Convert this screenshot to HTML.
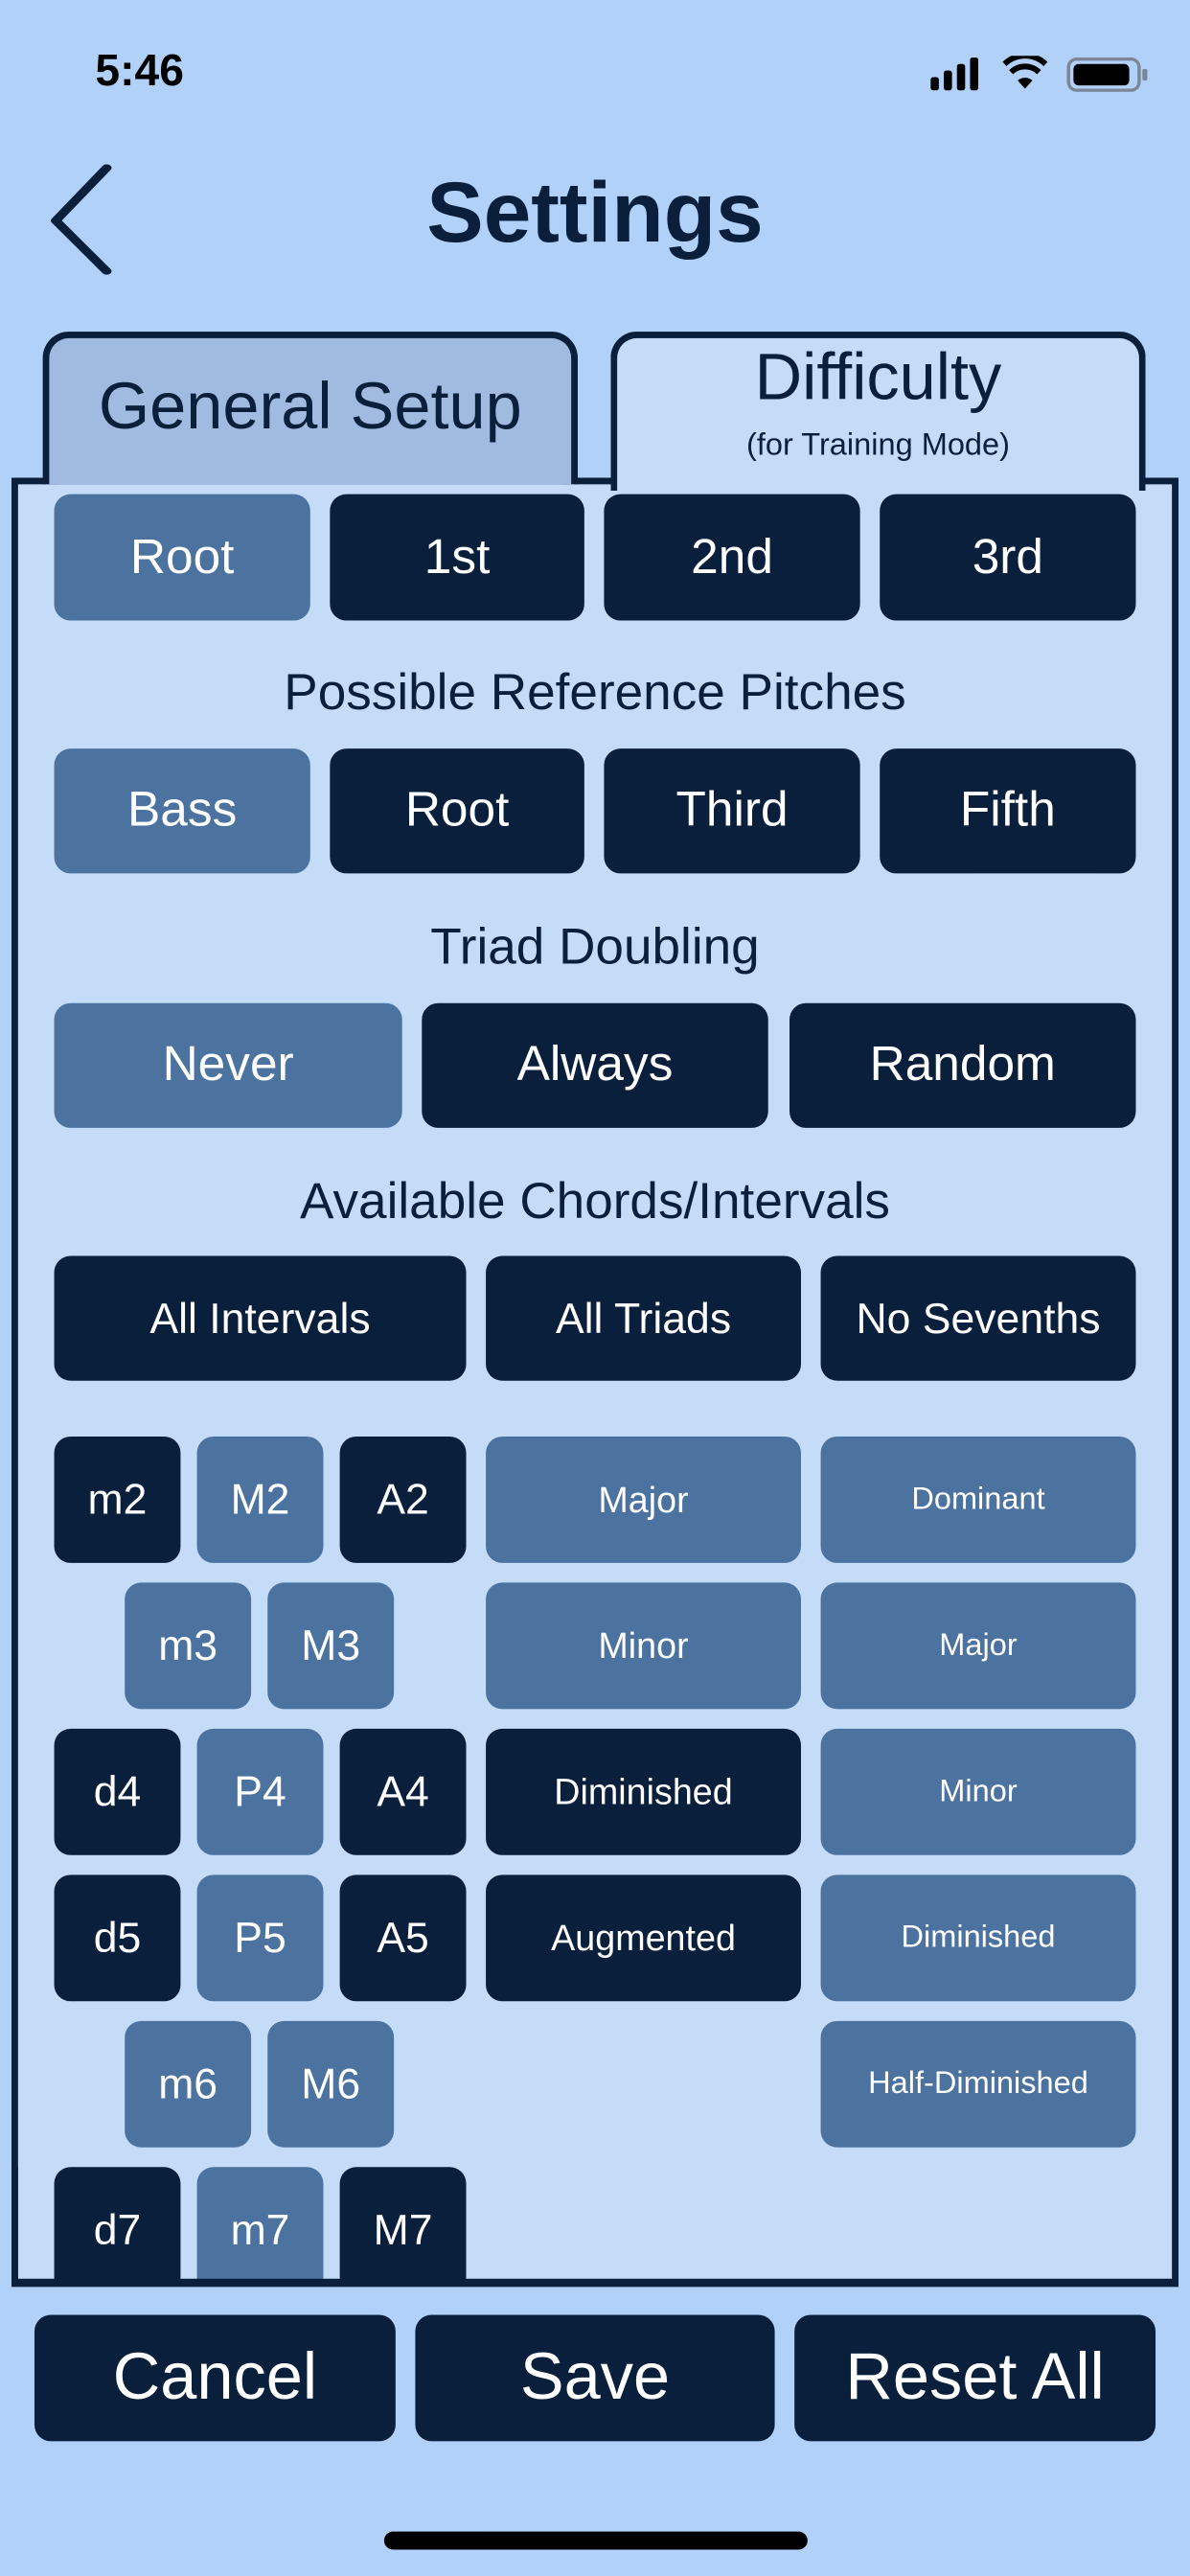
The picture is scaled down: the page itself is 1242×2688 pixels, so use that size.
<!DOCTYPE html>
<html><head><meta charset="utf-8"><style>
html,body{margin:0;padding:0;width:1242px;height:2688px;overflow:hidden;background:#b1d1f9;}
#w{position:absolute;left:0;top:0;width:725px;height:1569px;transform:scale(1.71310);transform-origin:0 0;font-family:"Liberation Sans",sans-serif;}
.a{position:absolute;box-sizing:border-box;}
.b{position:absolute;box-sizing:border-box;border-radius:10px;color:#fff;display:flex;align-items:center;justify-content:center;white-space:nowrap;}
.d{background:#0a1f3c;}
.m{background:#4c72a0;}
.h{position:absolute;left:0;width:725px;text-align:center;color:#0a1f3c;font-size:31px;}
</style></head><body><div id="w">
<div class="a" style="left:58px;top:28px;font-size:27px;font-weight:bold;color:#000;">5:46</div>
<svg class="a" style="left:565px;top:34px" width="135" height="22" viewBox="0 0 135 22">
<rect x="2" y="13" width="5" height="8" rx="1.5" fill="#000"/><rect x="10" y="9" width="5" height="12" rx="1.5" fill="#000"/><rect x="18" y="5" width="5" height="16" rx="1.5" fill="#000"/><rect x="26" y="1" width="5" height="20" rx="1.5" fill="#000"/>
<path d="M47 5 A18 18 0 0 1 72 5" stroke="#000" stroke-width="3.5" fill="none"/><path d="M51 10 A12 12 0 0 1 68 10" stroke="#000" stroke-width="3.5" fill="none"/><path d="M55 15 L59.5 20 L64 15 A7 7 0 0 0 55 15Z" fill="#000"/>
<rect x="86" y="2" width="43" height="19" rx="5" fill="none" stroke="#555" stroke-width="2" opacity=".6"/><rect x="89" y="5" width="34" height="13" rx="3" fill="#000"/><rect x="131" y="8" width="3" height="7" rx="1" fill="#555" opacity=".6"/>
</svg>
<svg class="a" style="left:26px;top:98px" width="46" height="70"><path d="M39 6 L8 52 L39 96" transform="scale(1,0.7)" stroke="#0a1f3c" stroke-width="6" fill="none" stroke-linecap="round" stroke-linejoin="round"/></svg>
<div class="a" style="left:0;width:725px;top:100px;text-align:center;font-size:52px;font-weight:bold;color:#0a1f3c;">Settings</div>
<!-- panel -->
<div class="a" style="left:7px;top:291px;width:711px;height:1102px;background:#c5dcf8;border:4px solid #0a1f3c;"></div>
<!-- tab1 -->
<div class="a" style="left:26px;top:202px;width:326px;height:93px;background:#a0bbdf;border:4px solid #0a1f3c;border-bottom:none;border-radius:16px 16px 0 0;"></div>
<div class="a" style="left:26px;top:226px;width:326px;text-align:center;font-size:40px;color:#0a1f3c;">General Setup</div>
<!-- tab2 -->
<div class="a" style="left:372px;top:202px;width:326px;height:97px;background:#c5dcf8;border:4px solid #0a1f3c;border-bottom:none;border-radius:16px 16px 0 0;"></div>
<div class="a" style="left:372px;top:208px;width:326px;text-align:center;font-size:40px;color:#0a1f3c;">Difficulty</div>
<div class="a" style="left:372px;top:261px;width:326px;text-align:center;font-size:19px;color:#0a1f3c;">(for Training Mode)</div>
<!-- row1 -->
<div class="b m" style="left:33px;top:301px;width:156px;height:77px;font-size:30px">Root</div>
<div class="b d" style="left:201px;top:301px;width:155px;height:77px;font-size:30px">1st</div>
<div class="b d" style="left:368px;top:301px;width:156px;height:77px;font-size:30px">2nd</div>
<div class="b d" style="left:536px;top:301px;width:156px;height:77px;font-size:30px">3rd</div>
<div class="h" style="top:404px">Possible Reference Pitches</div>
<div class="b m" style="left:33px;top:456px;width:156px;height:76px;font-size:30px">Bass</div>
<div class="b d" style="left:201px;top:456px;width:155px;height:76px;font-size:30px">Root</div>
<div class="b d" style="left:368px;top:456px;width:156px;height:76px;font-size:30px">Third</div>
<div class="b d" style="left:536px;top:456px;width:156px;height:76px;font-size:30px">Fifth</div>
<div class="h" style="top:559px">Triad Doubling</div>
<div class="b m" style="left:33px;top:611px;width:212px;height:76px;font-size:30px">Never</div>
<div class="b d" style="left:257px;top:611px;width:211px;height:76px;font-size:30px">Always</div>
<div class="b d" style="left:481px;top:611px;width:211px;height:76px;font-size:30px">Random</div>
<div class="h" style="top:714px">Available Chords/Intervals</div>
<div class="b d" style="left:33px;top:765px;width:251px;height:76px;font-size:26px">All Intervals</div>
<div class="b d" style="left:296px;top:765px;width:192px;height:76px;font-size:26px">All Triads</div>
<div class="b d" style="left:500px;top:765px;width:192px;height:76px;font-size:26px">No Sevenths</div>
<!-- intervals -->
<div class="b d" style="left:33px;top:875px;width:77px;height:77px;font-size:26px">m2</div>
<div class="b m" style="left:120px;top:875px;width:77px;height:77px;font-size:26px">M2</div>
<div class="b d" style="left:207px;top:875px;width:77px;height:77px;font-size:26px">A2</div>
<div class="b m" style="left:76px;top:964px;width:77px;height:77px;font-size:26px">m3</div>
<div class="b m" style="left:163px;top:964px;width:77px;height:77px;font-size:26px">M3</div>
<div class="b d" style="left:33px;top:1053px;width:77px;height:77px;font-size:26px">d4</div>
<div class="b m" style="left:120px;top:1053px;width:77px;height:77px;font-size:26px">P4</div>
<div class="b d" style="left:207px;top:1053px;width:77px;height:77px;font-size:26px">A4</div>
<div class="b d" style="left:33px;top:1142px;width:77px;height:77px;font-size:26px">d5</div>
<div class="b m" style="left:120px;top:1142px;width:77px;height:77px;font-size:26px">P5</div>
<div class="b d" style="left:207px;top:1142px;width:77px;height:77px;font-size:26px">A5</div>
<div class="b m" style="left:76px;top:1231px;width:77px;height:77px;font-size:26px">m6</div>
<div class="b m" style="left:163px;top:1231px;width:77px;height:77px;font-size:26px">M6</div>
<div class="b d" style="left:33px;top:1320px;width:77px;height:77px;font-size:26px">d7</div>
<div class="b m" style="left:120px;top:1320px;width:77px;height:77px;font-size:26px">m7</div>
<div class="b d" style="left:207px;top:1320px;width:77px;height:77px;font-size:26px">M7</div>
<!-- triads -->
<div class="b m" style="left:296px;top:875px;width:192px;height:77px;font-size:22px">Major</div>
<div class="b m" style="left:296px;top:964px;width:192px;height:77px;font-size:22px">Minor</div>
<div class="b d" style="left:296px;top:1053px;width:192px;height:77px;font-size:22px">Diminished</div>
<div class="b d" style="left:296px;top:1142px;width:192px;height:77px;font-size:22px">Augmented</div>
<!-- sevenths -->
<div class="b m" style="left:500px;top:875px;width:192px;height:77px;font-size:19px">Dominant</div>
<div class="b m" style="left:500px;top:964px;width:192px;height:77px;font-size:19px">Major</div>
<div class="b m" style="left:500px;top:1053px;width:192px;height:77px;font-size:19px">Minor</div>
<div class="b m" style="left:500px;top:1142px;width:192px;height:77px;font-size:19px">Diminished</div>
<div class="b m" style="left:500px;top:1231px;width:192px;height:77px;font-size:19px">Half-Diminished</div>
<!-- bottom border overlay to clip -->
<div class="a" style="left:7px;top:1389px;width:711px;height:180px;background:#b1d1f9;"></div>
<div class="a" style="left:7px;top:1388px;width:711px;height:5px;background:#0a1f3c;"></div>
<div class="a" style="left:7px;top:1320px;width:4px;height:70px;background:#0a1f3c;"></div>
<!-- bottom buttons -->
<div class="b d" style="left:21px;top:1410px;width:220px;height:77px;font-size:40px">Cancel</div>
<div class="b d" style="left:253px;top:1410px;width:219px;height:77px;font-size:40px">Save</div>
<div class="b d" style="left:484px;top:1410px;width:220px;height:77px;font-size:40px">Reset All</div>
<div class="a" style="left:234px;top:1542px;width:258px;height:11px;border-radius:6px;background:#000;"></div>
</div></body></html>
